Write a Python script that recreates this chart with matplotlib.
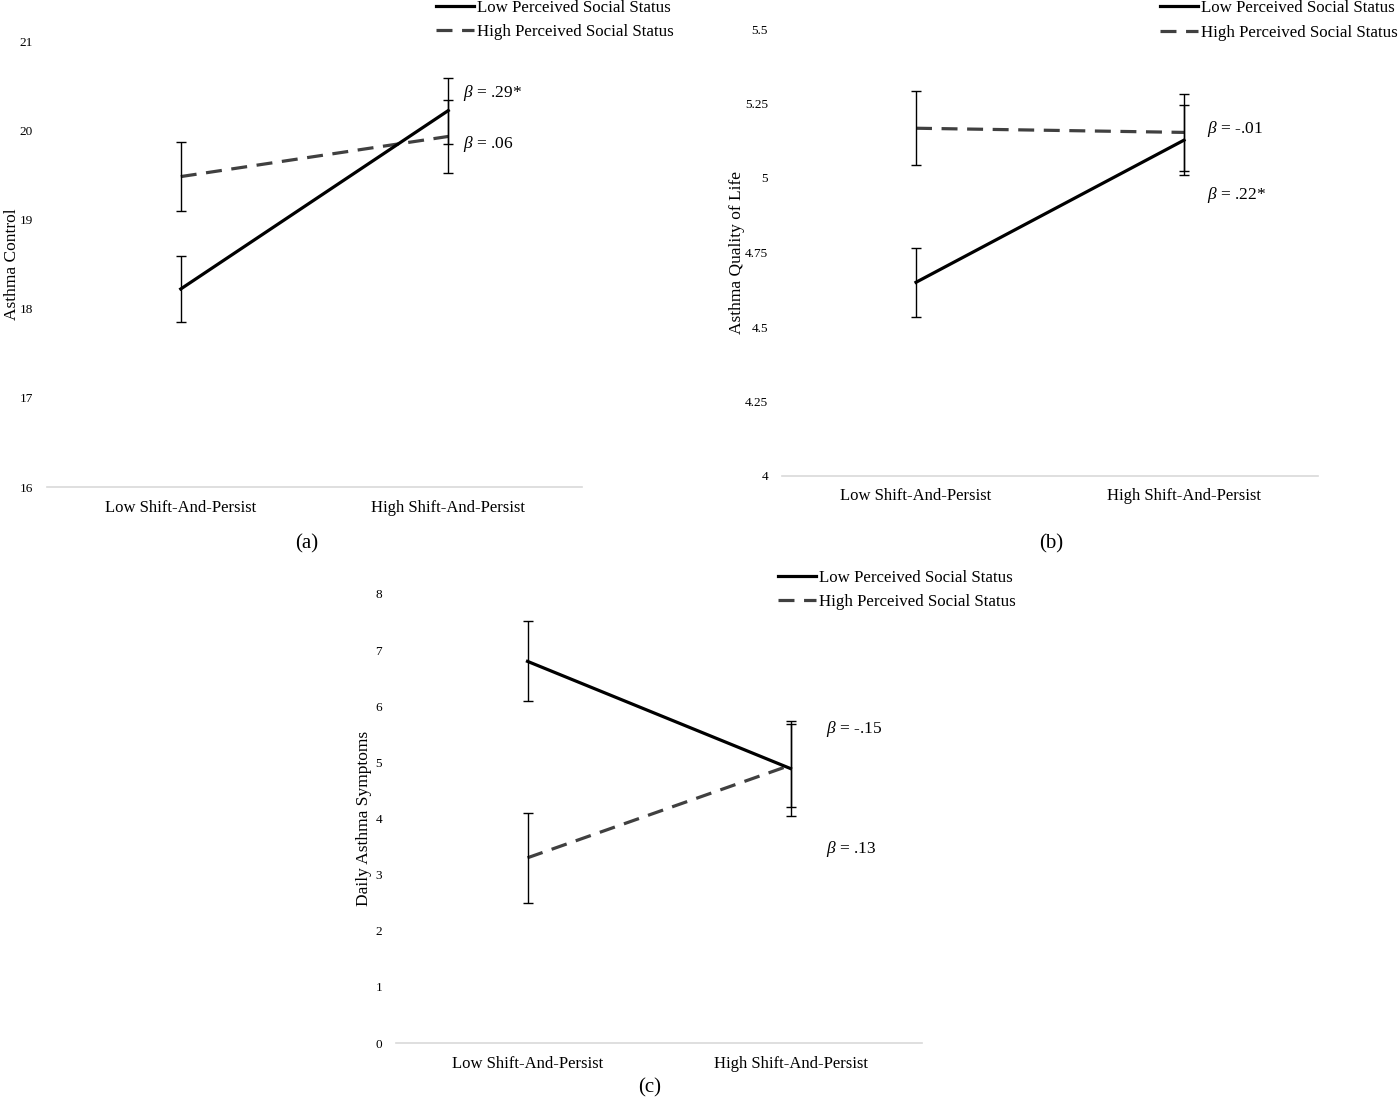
import matplotlib
matplotlib.use("Agg")
import matplotlib.pyplot as plt

plt.rcParams['font.family'] = ['Liberation Serif', 'DejaVu Serif']
plt.rcParams['mathtext.fontset'] = 'custom'
plt.rcParams['mathtext.rm'] = 'Liberation Serif'
plt.rcParams['mathtext.it'] = 'Liberation Serif:italic'

categories = ["Low Shift-And-Persist", "High Shift-And-Persist"]
series_names = ["Low Perceived Social Status", "High Perceived Social Status"]

# Panel (a): Asthma Control
a_low = [18.22, 20.22]
a_low_err = [0.37, 0.37]
a_high = [19.48, 19.93]
a_high_err = [0.39, 0.41]
a_betas = ["$\\beta$ = .29*", "$\\beta$ = .06"]
a_yticks = [16, 17, 18, 19, 20, 21]

# Panel (b): Asthma Quality of Life
b_low = [4.65, 5.127]
b_low_err = [0.115, 0.118]
b_high = [5.167, 5.153]
b_high_err = [0.125, 0.13]
b_betas = ["$\\beta$ = -.01", "$\\beta$ = .22*"]
b_yticks = [4, 4.25, 4.5, 4.75, 5, 5.25, 5.5]
b_yticklabels = ["4", "4.25", "4.5", "4.75", "5", "5.25", "5.5"]

# Panel (c): Daily Asthma Symptoms
c_low = [6.80, 4.89]
c_low_err = [0.715, 0.85]
c_high = [3.30, 4.95]
c_high_err = [0.80, 0.74]
c_betas = ["$\\beta$ = -.15", "$\\beta$ = .13"]
c_yticks = [0, 1, 2, 3, 4, 5, 6, 7, 8]

W, H = 1400, 1100
fig = plt.figure(figsize=(14, 11), dpi=100)


def px(x0, y0):
    return x0 / W, 1 - y0 / H


def panel(rect, low, low_err, high, high_err, yticks, yticklabels, ylim, ylabel,
          label_x, legend_xy, betas, beta_pos, tag, tag_pos):
    l, b, w, h = rect
    ax = fig.add_axes([l / W, 1 - b / H, w / W, h / H])
    xs = list(range(len(categories)))
    ax.errorbar(xs, high, yerr=high_err, fmt='none', ecolor='black', elinewidth=1.0,
                capsize=3.5, capthick=1.0, zorder=3)
    ax.errorbar(xs, low, yerr=low_err, fmt='none', ecolor='black', elinewidth=1.0,
                capsize=3.5, capthick=1.0, zorder=3)
    ax.plot(xs, high, color='#404040', lw=2.3, linestyle=(0, (5, 3)),
            label=series_names[1], zorder=2)
    ax.plot(xs, low, color='black', lw=2.3, label=series_names[0], zorder=4)
    ax.set_xlim(-0.5, 1.5)
    ax.set_ylim(*ylim)
    ax.set_yticks(yticks)
    ax.set_yticklabels(yticklabels)
    ax.set_xticks(xs)
    ax.set_xticklabels(categories, fontsize=12)
    ax.tick_params(axis='y', length=0, pad=10, labelsize=9.5)
    ax.tick_params(axis='x', length=0, pad=9)
    for s in ['top', 'right', 'left']:
        ax.spines[s].set_visible(False)
    ax.spines['bottom'].set_color('#d9d9d9')
    ax.spines['bottom'].set_linewidth(1.2)
    ax.set_ylabel(ylabel, fontsize=12.5)
    ax.yaxis.set_label_coords(label_x, 0.5)
    handles, labels = ax.get_legend_handles_labels()
    order = [labels.index(series_names[0]), labels.index(series_names[1])]
    fig.legend([handles[i] for i in order], [labels[i] for i in order],
               loc='center left', bbox_to_anchor=px(*legend_xy), frameon=False,
               fontsize=12.2, handlelength=2.25, handletextpad=0.15,
               labelspacing=0.5, borderpad=0, borderaxespad=0)
    for txt, (bx, by) in zip(betas, beta_pos):
        fig.text(*px(bx, by), txt, fontsize=12.5, ha='left', va='center')
    fig.text(*px(*tag_pos), tag, fontsize=15, ha='center', va='center')
    return ax


panel((47, 487, 535, 446), a_low, a_low_err, a_high, a_high_err,
      a_yticks, [str(t) for t in a_yticks], (16, 21), "Asthma Control",
      -0.050, (436, 20), a_betas, [(463, 93), (463, 144)], "(a)", (307, 544))

panel((782, 476, 536, 447), b_low, b_low_err, b_high, b_high_err,
      b_yticks, b_yticklabels, (4, 5.5), "Asthma Quality of Life",
      -0.069, (1160, 20.5), b_betas, [(1207, 129), (1207, 195)], "(b)", (1051, 544))

panel((396, 1043, 526, 449), c_low, c_low_err, c_high, c_high_err,
      c_yticks, [str(t) for t in c_yticks], (0, 8), "Daily Asthma Symptoms",
      -0.0456, (778, 590), c_betas, [(826, 729), (826, 849)], "(c)", (650, 1088))

fig.savefig("out.png", dpi=100)
